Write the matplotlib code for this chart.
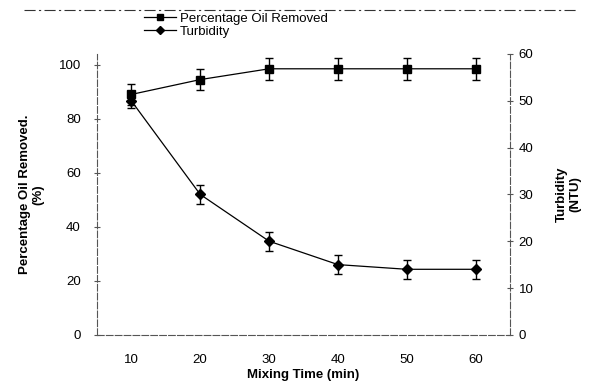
import matplotlib
matplotlib.use("Agg")
import matplotlib.pyplot as plt
from matplotlib.lines import Line2D

plt.rcParams["font.family"] = ["Liberation Sans", "DejaVu Sans"]

# data
mixing_time = [10, 20, 30, 40, 50, 60]
oil_removed = [89, 94.5, 98.5, 98.5, 98.5, 98.5]
oil_err = [4, 4, 4, 4, 4, 4]
turbidity = [50, 30, 20, 15, 14, 14]
turb_err = [1.5, 2, 2, 2, 2, 2]

fig = plt.figure(figsize=(5.94, 3.88), dpi=100)
ax = fig.add_axes([0.163, 0.137, 0.696, 0.724])
ax2 = ax.twinx()

ax.errorbar(mixing_time, oil_removed, yerr=oil_err, color="black",
            marker="s", markersize=6, linewidth=0.9, capsize=3,
            elinewidth=1)
ax2.errorbar(mixing_time, turbidity, yerr=turb_err, color="black",
             marker="D", markersize=5, linewidth=0.9, capsize=3,
             elinewidth=1)

ax.set_xlim(5, 65)
ax.set_ylim(0, 104)
ax2.set_ylim(0, 60)
ax.set_xticks([10, 20, 30, 40, 50, 60])
ax.set_yticks([0, 20, 40, 60, 80, 100])
ax2.set_yticks([0, 10, 20, 30, 40, 50, 60])

for a in (ax, ax2):
    a.spines["top"].set_visible(False)
    for s in ("left", "right", "bottom"):
        a.spines[s].set_color("#555555")
        a.spines[s].set_linewidth(0.8)
        a.spines[s].set_linestyle((0, (6, 2)))
    a.tick_params(direction="inout", length=5, width=0.8, color="#555555",
                  labelsize=9.5)
ax.tick_params(axis="y", pad=9)
ax.tick_params(axis="x", length=0, pad=14)
ax.spines["right"].set_visible(False)
ax2.spines["left"].set_visible(False)
ax2.spines["bottom"].set_visible(False)

ax.set_xlabel("Mixing Time (min)", fontsize=9.5, fontweight="bold", labelpad=2)
ax.set_ylabel("Percentage Oil Removed.\n(%)", fontsize=9.5, fontweight="bold",
              labelpad=10)
ax2.set_ylabel("Turbidity\n(NTU)", fontsize=9.5, fontweight="bold",
               rotation=90, labelpad=16)

h1 = Line2D([], [], color="black", marker="s", markersize=5, linewidth=0.9)
h2 = Line2D([], [], color="black", marker="D", markersize=4, linewidth=0.9)
fig.legend(handles=[h1, h2], labels=["Percentage Oil Removed", "Turbidity"],
           loc="upper left", bbox_to_anchor=(0.225, 0.995),
           frameon=False, fontsize=9.5, handlelength=2.4, handletextpad=0.3,
           labelspacing=0.05, borderpad=0.3)

# scan border line at top
fig.add_artist(Line2D([0.04, 0.97], [0.975, 0.975], color="#333333",
                      linewidth=0.8, linestyle=(0, (10, 3, 2, 3))))

plt.savefig("out.png", dpi=100)
